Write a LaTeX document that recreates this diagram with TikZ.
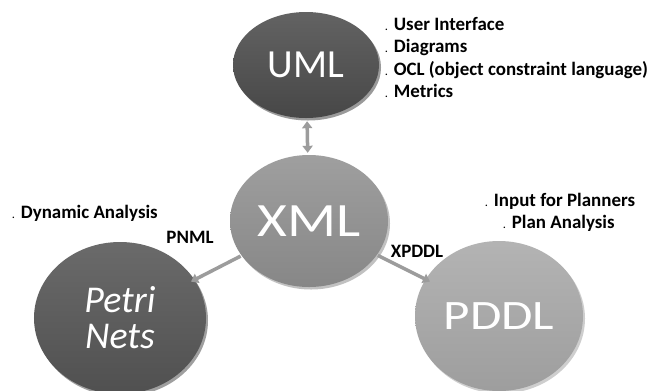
\documentclass[tikz,border=0pt]{standalone}
\usepackage{fontspec}
\setmainfont{Carlito}
\usetikzlibrary{arrows.meta,shapes.geometric,shadows}
\definecolor{umlc}{HTML}{474747}
\definecolor{petc}{HTML}{505050}
\definecolor{xmlc}{HTML}{8E8E8E}
\definecolor{pddc}{HTML}{A6A6A6}
\definecolor{arrc}{HTML}{9C9C9C}
\newcommand{\bul}{{\fontsize{10}{10}\selectfont.}\hspace{6bp}}
\tikzset{
  bubble/.style={ellipse, inner sep=0pt, text=white,
    drop shadow={shadow xshift=2bp, shadow yshift=-2.5bp, opacity=1, fill=#1!55!white}},
  conn/.style={draw=arrc, line width=3.5bp, -{Triangle[width=10bp,length=7bp]}},
  conn2/.style={draw=arrc, line width=3.5bp, {Triangle[width=10bp,length=7bp]}-{Triangle[width=10bp,length=7bp]}},
  lbl/.style={font=\fontsize{19}{21}\selectfont\bfseries, text=black, inner sep=0pt, anchor=base west},
  lblc/.style={font=\fontsize{19}{21}\selectfont\bfseries, text=black, inner sep=0pt, anchor=base},
}
\begin{document}
\begin{tikzpicture}[x=1bp,y=-1bp]
\useasboundingbox (0,0) rectangle (648,390);
\fill[white] (0,0) rectangle (648,390);
% bubbles
\node[bubble=umlc, minimum width=146bp, minimum height=106bp,
  top color=umlc!85!white, bottom color=umlc, font=\fontsize{40}{40}\selectfont]
  (uml) at (306,65) {UML};
\node[bubble=xmlc, minimum width=158bp, minimum height=132bp,
  top color=xmlc!85!white, bottom color=xmlc!95!black, font=\fontsize{48}{48}\selectfont]
  (xml) at (309,221) {\scalebox{1.2}[1]{XML}};
\node[bubble=petc, minimum width=172bp, minimum height=152bp,
  top color=petc!85!white, bottom color=petc, font=\fontsize{38}{36}\selectfont\itshape, align=center]
  (petri) at (120,318) {Petri\\Nets};
\node[bubble=pddc, minimum width=168bp, minimum height=150bp,
  top color=pddc!85!white, bottom color=pddc!95!black, font=\fontsize{42}{42}\selectfont]
  (pddl) at (499,316) {\scalebox{1.22}[1]{PDDL}};
% connectors
\draw[conn2, shorten <=3bp, shorten >=2bp] (uml) -- (xml);
\draw[conn, shorten <=1bp, shorten >=-4bp] (xml) -- (petri);
\draw[conn, shorten <=1bp, shorten >=-5bp] (xml) -- (pddl);
% labels
\node[lbl] (l1) at (385,30) {\bul User Interface};
\node[lbl] (l2) at (385,52.5) {\bul Diagrams};
\node[lbl] (l3) at (385,75) {\bul OCL (object constraint language)};
\node[lbl] (l4) at (385,97.5) {\bul Metrics};
\node[lbl] (dyn) at (12,218) {\bul Dynamic Analysis};
\node[lblc] (pnml) at (190,243) {PNML};
\node[lblc] (xpddl) at (417,257) {XPDDL};
\node[lbl] (inp) at (485,206) {\bul Input for Planners};
\node[lbl] (plan) at (503,228) {\bul Plan Analysis};
\end{tikzpicture}
\end{document}
